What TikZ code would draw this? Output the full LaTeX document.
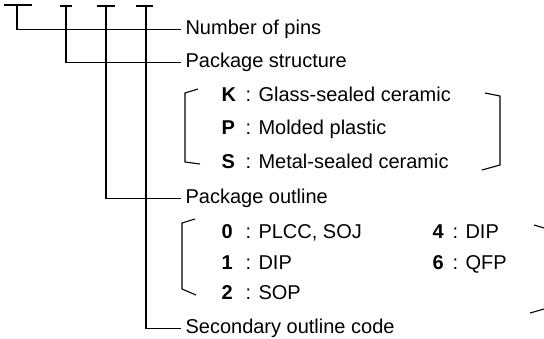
\documentclass[tikz,border=0pt]{standalone}
\usepackage{fontspec}
\setmainfont{Liberation Sans}

\begin{document}
\begin{tikzpicture}[x=1pt, y=-1pt, line width=1.1pt,
  every node/.style={font=\fontsize{20}{24}\selectfont, inner sep=0pt, anchor=base west},
  field/.style={inner sep=4pt},
  code/.style={font=\fontsize{20}{24}\selectfont\bfseries}]
  \useasboundingbox (0,0) rectangle (544,339);
  \coordinate (d1) at (17,5);
  \coordinate (d2) at (66,6);
  \coordinate (d3) at (106,6);
  \coordinate (d4) at (146,6);
  \draw ([xshift=-13pt]d1) -- ([xshift=15pt]d1);
  \draw ([xshift=-6pt]d2) -- ([xshift=6pt]d2);
  \draw ([xshift=-9pt]d3) -- ([xshift=9pt]d3);
  \draw ([xshift=-10pt]d4) -- ([xshift=7pt]d4);

  \node[field] (pins) at (181,35) {Number of pins};
  \node[field] (struct) at (181,68) {Package structure};
  \node[field] (outline) at (181,204) {Package outline};
  \node[field] (second) at (181,334) {Secondary outline code};

  \node[code] (kK) at (221,102) {K};
  \node (tK) at (245,102) {: Glass-sealed ceramic};
  \node[code] (kP) at (221,135) {P};
  \node (tP) at (245,135) {: Molded plastic};
  \node[code] (kS) at (221,169) {S};
  \node (tS) at (245,169) {: Metal-sealed ceramic};

  \node[code] (k0) at (221,239) {0};
  \node (t0) at (245,239) {: PLCC, SOJ};
  \node[code] (k1) at (221,270) {1};
  \node (t1) at (245,270) {: DIP};
  \node[code] (k2) at (221,300) {2};
  \node (t2) at (245,300) {: SOP};
  \node[code] (k4) at (432,239) {4};
  \node (t4) at (452,239) {: DIP};
  \node[code] (k6) at (432,270) {6};
  \node (t6) at (452,270) {: QFP};

  \path[draw]
    (d1) |- (pins.west)
    (d2) |- (struct.west)
    (d3) |- (outline.west)
    (d4) |- (second.west);

  \draw (198,89) -- (185,93) -- (185,162) -- (200,164);
  \draw (485,93) -- (500,96) -- (500,165) -- (482,170);
  \draw (195,219) -- (182,223) -- (182,289) -- (196,295);
  \draw (534,225) -- (544,228);
  \draw (530,313) -- (544,309);
\end{tikzpicture}
\end{document}
